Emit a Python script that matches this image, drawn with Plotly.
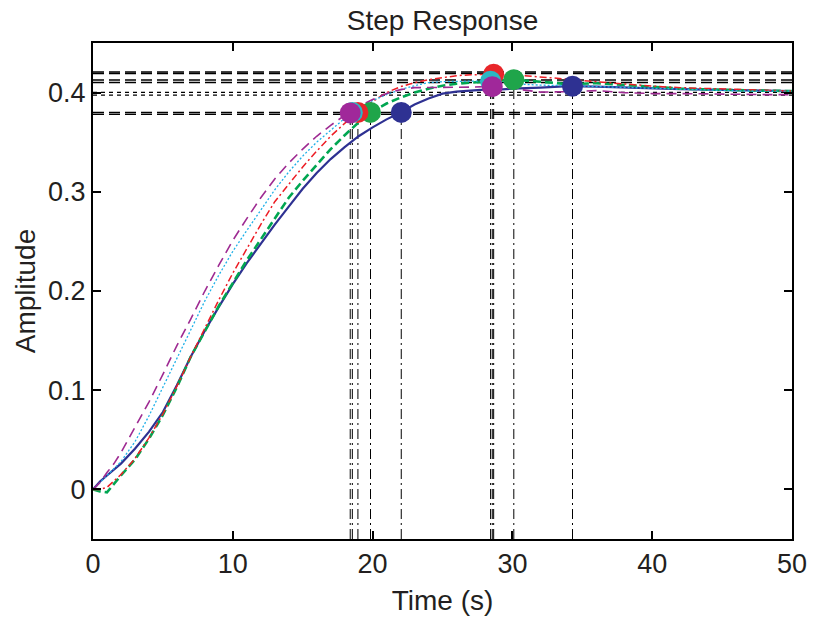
import plotly.graph_objects as go

# ---------------- data ----------------
t = [0, 0.5, 1, 1.5, 2, 3, 4, 5, 6, 7, 8, 9, 10, 11, 12, 13, 14, 15, 16, 17, 18, 19,
     20, 21, 22, 23, 24, 25, 26, 27, 28, 29, 30, 32, 34, 36, 38, 40, 42, 44, 46, 48, 50]

y_blue = [0, 0.008, 0.014, 0.020, 0.026, 0.041, 0.058, 0.078, 0.105, 0.134, 0.160, 0.184,
          0.207, 0.228, 0.248, 0.267, 0.285, 0.303, 0.319, 0.333, 0.345, 0.356, 0.365,
          0.373, 0.380, 0.388, 0.394, 0.399, 0.401, 0.402, 0.403, 0.403, 0.404, 0.405,
          0.4065, 0.406, 0.405, 0.404, 0.4035, 0.403, 0.4025, 0.402, 0.4015]
y_green = [0, -0.002, -0.003, 0.006, 0.014, 0.030, 0.051, 0.075, 0.103, 0.134, 0.160, 0.185,
           0.208, 0.231, 0.252, 0.273, 0.294, 0.311, 0.327, 0.343, 0.357, 0.370, 0.381,
           0.389, 0.395, 0.400, 0.404, 0.407, 0.409, 0.410, 0.411, 0.412, 0.413, 0.411,
           0.4085, 0.4095, 0.408, 0.406, 0.404, 0.403, 0.4025, 0.402, 0.4015]
y_red = [0, 0, 0.002, 0.008, 0.015, 0.031, 0.052, 0.076, 0.104, 0.134, 0.163, 0.191,
         0.218, 0.243, 0.267, 0.290, 0.308, 0.325, 0.341, 0.356, 0.369, 0.380, 0.391,
         0.400, 0.406, 0.410, 0.413, 0.415, 0.417, 0.418, 0.4185, 0.4185, 0.418, 0.416,
         0.4135, 0.411, 0.4085, 0.4065, 0.405, 0.404, 0.403, 0.402, 0.4015]
y_cyan = [0, 0.007, 0.013, 0.020, 0.028, 0.048, 0.074, 0.103, 0.132, 0.161, 0.190, 0.216,
          0.240, 0.261, 0.282, 0.302, 0.320, 0.336, 0.350, 0.362, 0.374, 0.384, 0.392,
          0.398, 0.403, 0.407, 0.410, 0.411, 0.4115, 0.4115, 0.4115, 0.411, 0.409, 0.4075,
          0.407, 0.406, 0.405, 0.404, 0.403, 0.402, 0.4017, 0.4015, 0.4015]
y_magenta = [0, 0.007, 0.017, 0.026, 0.037, 0.062, 0.088, 0.116, 0.145, 0.172, 0.200, 0.226,
             0.251, 0.273, 0.294, 0.313, 0.329, 0.343, 0.356, 0.367, 0.377, 0.386, 0.393,
             0.399, 0.403, 0.405, 0.405, 0.405, 0.405, 0.4055, 0.406, 0.406, 0.404, 0.4005,
             0.401, 0.402, 0.400, 0.399, 0.399, 0.3985, 0.3985, 0.398, 0.398]

series_names = ["sys1", "sys2", "sys3", "sys4", "sys5"]
settle_t = [22.05, 19.85, 18.95, 18.55, 18.4]
settle_y = [0.380, 0.380, 0.380, 0.380, 0.3795]
peak_t = [34.3, 30.1, 28.66, 28.44, 28.56]
peak_y = [0.4065, 0.413, 0.4185, 0.4115, 0.406]

band_dashed = [0.4208, 0.4193, 0.4127, 0.4102, 0.3801, 0.3781]
band_dotted = [0.4002, 0.3975]

x_ticks = [0, 10, 20, 30, 40, 50]
y_ticks = [0, 0.1, 0.2, 0.3, 0.4]

# ---------------- styles ----------------
line_colors = ["#2E3192", "#00A651", "#ED1C24", "#1FB0E8", "#9E2A92"]
marker_colors = ["#2E3192", "#1FA54A", "#E8262A", "#2BB7C4", "#A0289A"]
line_dash = ["solid", "8px,4px", "7px,3px,2px,3px", "2px,2px", "10px,6px"]
line_width = [2.2, 2.6, 1.5, 1.3, 1.6]
series_y = [y_blue, y_green, y_red, y_cyan, y_magenta]

X_MIN, X_MAX = 0, 50
Y_MIN, Y_MAX = -0.05, 0.45

fig = go.Figure()

# reference (settling band / final value) lines
for yv in band_dashed:
    fig.add_trace(go.Scatter(x=[X_MIN, X_MAX], y=[yv, yv], mode="lines",
                             line=dict(color="black", width=1.4, dash="11px,5px"),
                             hoverinfo="skip", showlegend=False))
for yv in band_dotted:
    fig.add_trace(go.Scatter(x=[X_MIN, X_MAX], y=[yv, yv], mode="lines",
                             line=dict(color="black", width=1.3, dash="4px,4px"),
                             hoverinfo="skip", showlegend=False))

# vertical dash-dot lines from characteristic points down to the axis
for xs, ys in ((settle_t, settle_y), (peak_t, peak_y)):
    for xv, yv in zip(xs, ys):
        fig.add_trace(go.Scatter(x=[xv, xv], y=[Y_MIN, yv], mode="lines",
                                 line=dict(color="black", width=1.0, dash="10px,4px,2px,4px"),
                                 hoverinfo="skip", showlegend=False))

# step responses
for i in range(5):
    fig.add_trace(go.Scatter(x=t, y=series_y[i], mode="lines", name=series_names[i],
                             line=dict(color=line_colors[i], width=line_width[i],
                                       dash=line_dash[i]),
                             showlegend=False))

# characteristic markers
for i in range(5):
    fig.add_trace(go.Scatter(x=[settle_t[i], peak_t[i]], y=[settle_y[i], peak_y[i]],
                             mode="markers",
                             marker=dict(color=marker_colors[i], size=21, line=dict(width=0)),
                             showlegend=False))

FONT = "Liberation Sans, Arial, Helvetica, sans-serif"
TXT = "#231F20"
axis_common = dict(showline=True, mirror="ticks", linecolor="black", linewidth=2,
                   ticks="inside", ticklen=8, tickwidth=1.5, tickcolor="black",
                   showgrid=False, zeroline=False,
                   tickfont=dict(family=FONT, size=27, color=TXT))

fig.update_layout(
    width=819, height=623,
    margin=dict(l=93, r=22, t=43, b=81),
    paper_bgcolor="white", plot_bgcolor="white",
    title=dict(text="Step Response", x=0.5, xref="paper", xanchor="center",
               y=1 - 20 / 623, yanchor="middle", yref="container",
               font=dict(family=FONT, size=28, color=TXT)),
    xaxis=dict(range=[X_MIN, X_MAX], tickvals=x_ticks,
               ticktext=[str(v) for v in x_ticks],
               title=dict(text="Time (s)", standoff=12,
                          font=dict(family=FONT, size=28, color=TXT)),
               **axis_common),
    yaxis=dict(range=[Y_MIN, Y_MAX], tickvals=y_ticks,
               ticktext=["0", "0.1", "0.2", "0.3", "0.4"],
               title=dict(text="Amplitude", standoff=4,
                          font=dict(family=FONT, size=28, color=TXT)),
               **axis_common),
)

fig.write_html("out.html")
